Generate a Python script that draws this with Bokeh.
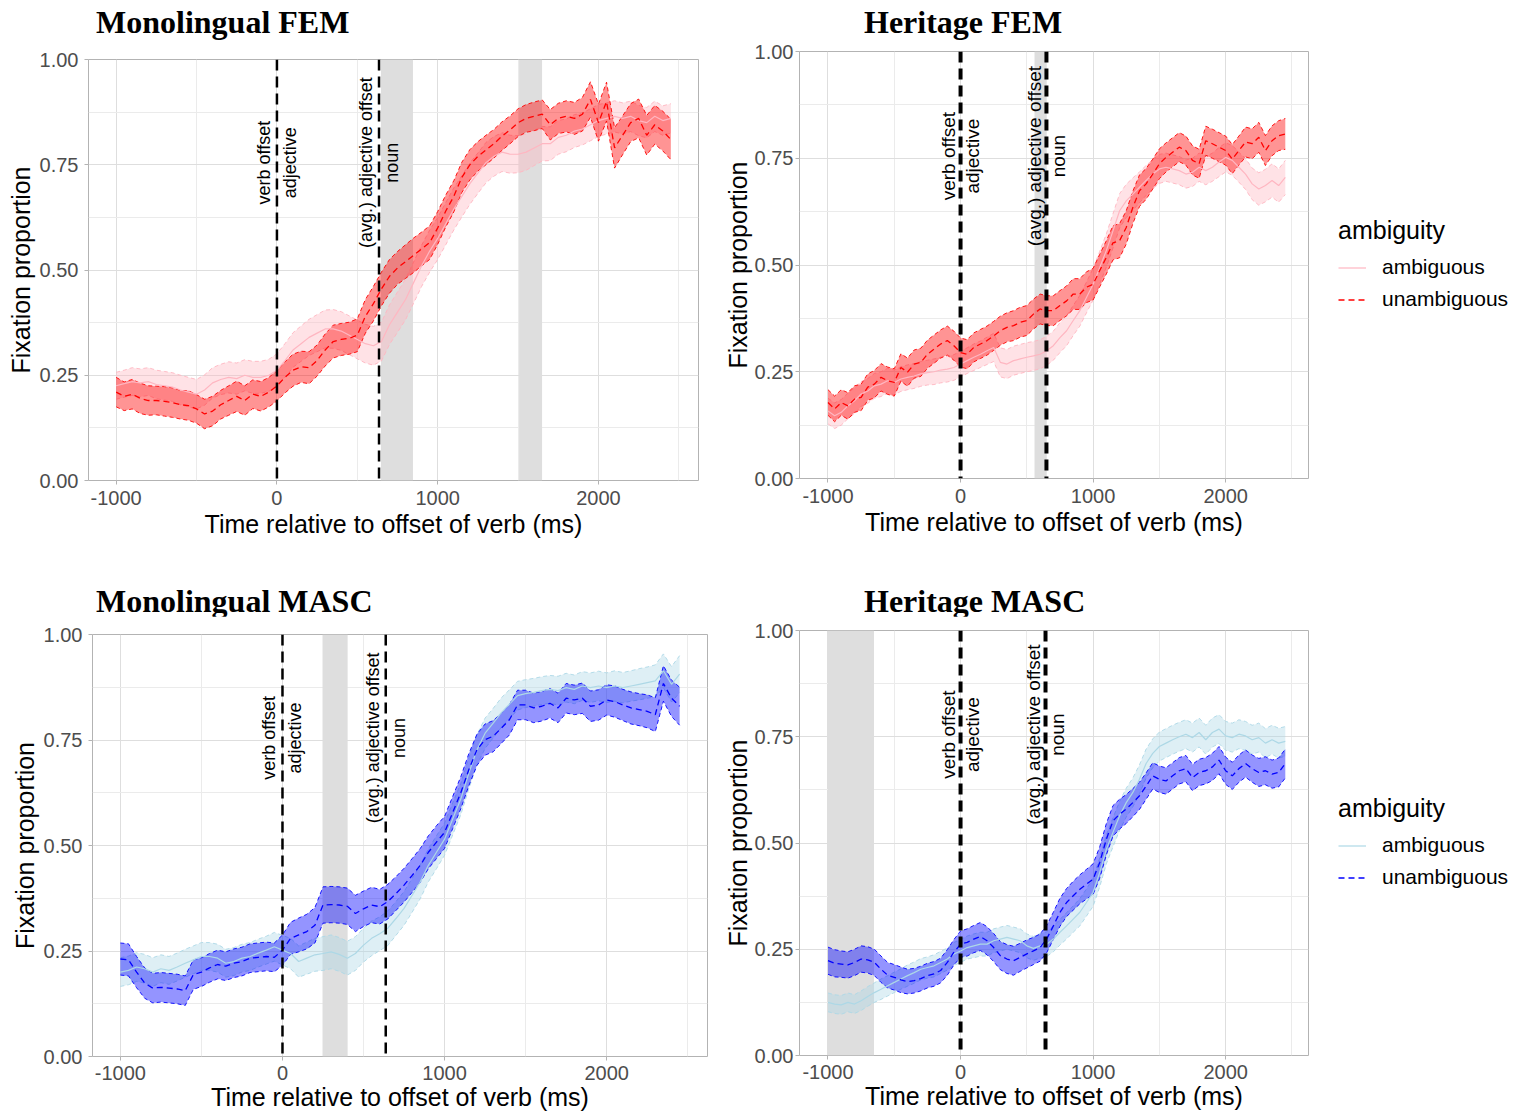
import math
from bokeh.plotting import figure
from bokeh.layouts import column, row
from bokeh.models import (ColumnDataSource, FixedTicker, Span, BoxAnnotation, Label,
                          Legend, LegendItem, Range1d, NumeralTickFormatter, Div)
from bokeh.embed import file_html
from bokeh.resources import INLINE

# ---------------- data ----------------
time_ms = list(range(-1000, 2500, 50))

panel_titles = ["Monolingual FEM", "Heritage FEM", "Monolingual MASC", "Heritage MASC"]
series_names = ["ambiguous", "unambiguous"]
legend_title = "ambiguity"
x_label = "Time relative to offset of verb (ms)"
y_label = "Fixation proportion"
x_ticks = [-1000, 0, 1000, 2000]
x_tick_labels = ["-1000", "0", "1000", "2000"]
x_minor = [-1500, -500, 500, 1500, 2500]
y_ticks = [0.0, 0.25, 0.5, 0.75, 1.0]
y_tick_labels = ["0.00", "0.25", "0.50", "0.75", "1.00"]
y_minor = [0.125, 0.375, 0.625, 0.875]
event_labels_left = ["verb offset", "(avg.) adjective offset"]
event_labels_right = ["adjective", "noun"]

# vertical event lines (ms) and grey windows (ms) per panel
events_mono_fem = [0, 635]
events_her_fem = [0, 648]
events_mono_masc = [0, 637]
events_her_masc = [0, 641]
windows_mono_fem = [(647, 846), (1506, 1649)]
windows_her_fem = [(558, 650)]
windows_mono_masc = [(247, 402)]
windows_her_masc = [(-1000, -653)]

# Monolingual FEM
mono_fem_amb = [0.225, 0.23, 0.235, 0.232, 0.235, 0.228, 0.225, 0.222, 0.215, 0.21,
                0.205, 0.215, 0.232, 0.24, 0.245, 0.242, 0.25, 0.245, 0.245, 0.25,
                0.262, 0.285, 0.31, 0.325, 0.34, 0.35, 0.36, 0.36, 0.355, 0.345,
                0.335, 0.325, 0.32, 0.33, 0.37, 0.4, 0.43, 0.47, 0.51, 0.545,
                0.575, 0.61, 0.645, 0.675, 0.705, 0.73, 0.755, 0.77, 0.78, 0.775,
                0.775, 0.78, 0.79, 0.8, 0.8, 0.815, 0.82, 0.83, 0.835, 0.845,
                0.855, 0.86, 0.865, 0.86, 0.865, 0.855, 0.85, 0.865, 0.855, 0.86]
mono_fem_amb_ci = [0.032, 0.032, 0.033, 0.033, 0.033, 0.034, 0.034, 0.034, 0.035, 0.035,
                   0.035, 0.036, 0.036, 0.036, 0.037, 0.037, 0.037, 0.038, 0.038, 0.038,
                   0.039, 0.04, 0.041, 0.042, 0.043, 0.044, 0.045, 0.046, 0.046, 0.046,
                   0.046, 0.046, 0.046, 0.046, 0.047, 0.048, 0.048, 0.049, 0.049, 0.05,
                   0.05, 0.05, 0.05, 0.049, 0.049, 0.048, 0.048, 0.047, 0.046, 0.045,
                   0.044, 0.043, 0.042, 0.041, 0.04, 0.04, 0.039, 0.039, 0.038, 0.038,
                   0.038, 0.037, 0.037, 0.037, 0.036, 0.036, 0.036, 0.036, 0.035, 0.035]
mono_fem_unamb = [0.21, 0.20, 0.205, 0.195, 0.19, 0.19, 0.188, 0.185, 0.18, 0.178,
                  0.17, 0.158, 0.165, 0.18, 0.19, 0.2, 0.19, 0.205, 0.2, 0.21,
                  0.225, 0.245, 0.262, 0.27, 0.268, 0.285, 0.31, 0.33, 0.335, 0.338,
                  0.345, 0.39, 0.42, 0.455, 0.485, 0.505, 0.52, 0.535, 0.55, 0.565,
                  0.6, 0.64, 0.675, 0.72, 0.75, 0.77, 0.785, 0.8, 0.818, 0.833,
                  0.85, 0.86, 0.865, 0.87, 0.845, 0.86, 0.865, 0.86, 0.87, 0.905,
                  0.85, 0.9, 0.79, 0.82, 0.85, 0.86, 0.82, 0.845, 0.83, 0.81]
mono_fem_unamb_ci = [0.035, 0.034, 0.035, 0.036, 0.035, 0.034, 0.035, 0.035, 0.034, 0.035,
                     0.034, 0.035, 0.035, 0.034, 0.035, 0.036, 0.035, 0.034, 0.035, 0.035,
                     0.036, 0.037, 0.038, 0.037, 0.038, 0.037, 0.038, 0.039, 0.038, 0.038,
                     0.039, 0.04, 0.041, 0.04, 0.04, 0.039, 0.04, 0.041, 0.04, 0.04,
                     0.039, 0.038, 0.037, 0.036, 0.036, 0.035, 0.035, 0.034, 0.034, 0.033,
                     0.033, 0.033, 0.034, 0.034, 0.036, 0.036, 0.037, 0.038, 0.04, 0.042,
                     0.044, 0.046, 0.048, 0.046, 0.045, 0.046, 0.047, 0.046, 0.047, 0.048]

# Heritage FEM
her_fem_amb = [0.158, 0.147, 0.155, 0.17, 0.182, 0.198, 0.205, 0.217, 0.221, 0.229,
               0.225, 0.233, 0.237, 0.24, 0.245, 0.248, 0.25, 0.254, 0.256, 0.26,
               0.268, 0.276, 0.284, 0.291, 0.299, 0.307, 0.272, 0.268, 0.276, 0.28,
               0.284, 0.287, 0.291, 0.299, 0.311, 0.33, 0.346, 0.37, 0.393, 0.424,
               0.455, 0.494, 0.534, 0.58, 0.627, 0.65, 0.666, 0.682, 0.698, 0.713,
               0.725, 0.729, 0.725, 0.721, 0.713, 0.717, 0.729, 0.721, 0.729, 0.741,
               0.752, 0.745, 0.729, 0.713, 0.69, 0.678, 0.686, 0.698, 0.686, 0.705]
her_fem_amb_ci = [0.03, 0.03, 0.03, 0.03, 0.03, 0.029, 0.029, 0.029, 0.029, 0.029,
                  0.029, 0.029, 0.029, 0.029, 0.029, 0.029, 0.03, 0.03, 0.03, 0.03,
                  0.03, 0.03, 0.031, 0.031, 0.032, 0.033, 0.034, 0.034, 0.034, 0.034,
                  0.034, 0.034, 0.034, 0.034, 0.034, 0.035, 0.035, 0.035, 0.036, 0.036,
                  0.037, 0.038, 0.039, 0.04, 0.04, 0.039, 0.038, 0.036, 0.035, 0.034,
                  0.034, 0.033, 0.033, 0.033, 0.033, 0.033, 0.033, 0.033, 0.033, 0.034,
                  0.034, 0.035, 0.035, 0.036, 0.037, 0.038, 0.038, 0.039, 0.039, 0.04]
her_fem_unamb = [0.178, 0.163, 0.178, 0.17, 0.186, 0.19, 0.214, 0.221, 0.237, 0.229,
                 0.225, 0.26, 0.249, 0.268, 0.272, 0.291, 0.303, 0.315, 0.323, 0.311,
                 0.295, 0.291, 0.307, 0.315, 0.323, 0.334, 0.346, 0.354, 0.358, 0.366,
                 0.37, 0.385, 0.397, 0.393, 0.393, 0.405, 0.416, 0.432, 0.432, 0.448,
                 0.455, 0.487, 0.518, 0.552, 0.557, 0.588, 0.635, 0.674, 0.69, 0.713,
                 0.737, 0.752, 0.764, 0.776, 0.768, 0.745, 0.737, 0.791, 0.784, 0.776,
                 0.768, 0.748, 0.768, 0.788, 0.784, 0.799, 0.768, 0.791, 0.803, 0.807]
her_fem_unamb_ci = [0.03, 0.03, 0.03, 0.031, 0.031, 0.031, 0.031, 0.032, 0.032, 0.032,
                    0.032, 0.032, 0.033, 0.033, 0.033, 0.033, 0.033, 0.033, 0.034, 0.034,
                    0.034, 0.034, 0.034, 0.034, 0.034, 0.034, 0.034, 0.034, 0.035, 0.035,
                    0.035, 0.035, 0.035, 0.035, 0.035, 0.035, 0.035, 0.036, 0.036, 0.036,
                    0.037, 0.038, 0.039, 0.04, 0.04, 0.039, 0.038, 0.037, 0.036, 0.035,
                    0.035, 0.034, 0.034, 0.034, 0.034, 0.034, 0.034, 0.034, 0.034, 0.034,
                    0.034, 0.034, 0.034, 0.035, 0.035, 0.035, 0.035, 0.035, 0.035, 0.036]

# Monolingual MASC
mono_masc_amb = [0.2, 0.204, 0.212, 0.208, 0.2, 0.208, 0.204, 0.212, 0.221, 0.229,
                 0.237, 0.237, 0.233, 0.221, 0.225, 0.233, 0.237, 0.245, 0.252, 0.26,
                 0.252, 0.244, 0.225, 0.233, 0.241, 0.244, 0.248, 0.242, 0.233, 0.244,
                 0.264, 0.28, 0.291, 0.304, 0.327, 0.351, 0.382, 0.414, 0.453, 0.484,
                 0.515, 0.563, 0.61, 0.672, 0.727, 0.766, 0.79, 0.815, 0.835, 0.855,
                 0.86, 0.863, 0.867, 0.87, 0.867, 0.874, 0.87, 0.878, 0.874, 0.878,
                 0.874, 0.878, 0.874, 0.878, 0.882, 0.886, 0.89, 0.914, 0.882, 0.906]
mono_masc_amb_ci = [0.034, 0.034, 0.034, 0.034, 0.034, 0.033, 0.033, 0.033, 0.033, 0.033,
                    0.033, 0.033, 0.033, 0.033, 0.033, 0.033, 0.033, 0.033, 0.033, 0.034,
                    0.035, 0.036, 0.037, 0.038, 0.039, 0.04, 0.04, 0.04, 0.04, 0.04,
                    0.04, 0.041, 0.04, 0.041, 0.04, 0.04, 0.04, 0.04, 0.039, 0.039,
                    0.038, 0.038, 0.037, 0.037, 0.036, 0.036, 0.035, 0.035, 0.034, 0.034,
                    0.033, 0.033, 0.033, 0.033, 0.034, 0.034, 0.034, 0.034, 0.035, 0.035,
                    0.035, 0.036, 0.036, 0.036, 0.037, 0.037, 0.038, 0.04, 0.042, 0.044]
mono_masc_unamb = [0.231, 0.229, 0.2, 0.174, 0.162, 0.164, 0.162, 0.16, 0.156, 0.194,
                   0.2, 0.21, 0.218, 0.214, 0.221, 0.225, 0.233, 0.235, 0.237, 0.235,
                   0.252, 0.28, 0.288, 0.296, 0.311, 0.359, 0.36, 0.359, 0.356, 0.339,
                   0.35, 0.359, 0.355, 0.367, 0.386, 0.406, 0.429, 0.453, 0.484, 0.508,
                   0.531, 0.578, 0.625, 0.68, 0.727, 0.751, 0.759, 0.778, 0.798, 0.833,
                   0.833, 0.826, 0.83, 0.837, 0.826, 0.849, 0.845, 0.849, 0.83, 0.833,
                   0.845, 0.841, 0.833, 0.826, 0.822, 0.818, 0.81, 0.884, 0.849, 0.83]
mono_masc_unamb_ci = [0.038, 0.038, 0.037, 0.036, 0.035, 0.035, 0.035, 0.035, 0.035, 0.035,
                      0.034, 0.034, 0.034, 0.034, 0.034, 0.034, 0.034, 0.034, 0.034, 0.034,
                      0.036, 0.038, 0.04, 0.041, 0.042, 0.043, 0.043, 0.043, 0.043, 0.043,
                      0.042, 0.042, 0.041, 0.041, 0.04, 0.04, 0.04, 0.04, 0.039, 0.039,
                      0.038, 0.038, 0.038, 0.038, 0.037, 0.037, 0.037, 0.036, 0.036, 0.035,
                      0.035, 0.035, 0.035, 0.035, 0.035, 0.035, 0.035, 0.036, 0.036, 0.036,
                      0.036, 0.037, 0.037, 0.038, 0.038, 0.039, 0.04, 0.042, 0.043, 0.045]

# Heritage MASC
her_masc_amb = [0.125, 0.121, 0.119, 0.125, 0.121, 0.129, 0.139, 0.148, 0.156, 0.164,
                0.172, 0.18, 0.188, 0.195, 0.203, 0.207, 0.211, 0.219, 0.227, 0.239,
                0.246, 0.254, 0.258, 0.262, 0.262, 0.27, 0.274, 0.278, 0.274, 0.27,
                0.258, 0.252, 0.258, 0.262, 0.274, 0.29, 0.305, 0.321, 0.337, 0.36,
                0.384, 0.431, 0.485, 0.525, 0.564, 0.595, 0.619, 0.65, 0.687, 0.711,
                0.727, 0.735, 0.743, 0.75, 0.756, 0.748, 0.76, 0.743, 0.76, 0.768,
                0.752, 0.748, 0.756, 0.752, 0.743, 0.748, 0.735, 0.743, 0.735, 0.739]
her_masc_amb_ci = [0.022, 0.022, 0.022, 0.022, 0.022, 0.023, 0.023, 0.023, 0.024, 0.024,
                   0.024, 0.024, 0.025, 0.025, 0.025, 0.025, 0.026, 0.026, 0.026, 0.027,
                   0.027, 0.027, 0.028, 0.028, 0.028, 0.028, 0.028, 0.028, 0.028, 0.028,
                   0.028, 0.028, 0.029, 0.029, 0.03, 0.03, 0.031, 0.031, 0.032, 0.032,
                   0.033, 0.034, 0.034, 0.034, 0.034, 0.034, 0.034, 0.034, 0.034, 0.034,
                   0.034, 0.034, 0.034, 0.034, 0.034, 0.034, 0.034, 0.034, 0.034, 0.034,
                   0.034, 0.034, 0.034, 0.034, 0.034, 0.034, 0.034, 0.034, 0.035, 0.035]
her_masc_unamb = [0.223, 0.217, 0.215, 0.213, 0.219, 0.227, 0.225, 0.219, 0.203, 0.189,
                  0.184, 0.178, 0.174, 0.176, 0.181, 0.188, 0.192, 0.2, 0.219, 0.243,
                  0.262, 0.266, 0.274, 0.28, 0.27, 0.254, 0.235, 0.227, 0.223, 0.231,
                  0.239, 0.246, 0.254, 0.274, 0.305, 0.337, 0.36, 0.376, 0.391, 0.403,
                  0.415, 0.454, 0.509, 0.552, 0.568, 0.58, 0.595, 0.611, 0.634, 0.658,
                  0.65, 0.646, 0.658, 0.67, 0.675, 0.654, 0.666, 0.67, 0.679, 0.695,
                  0.67, 0.658, 0.675, 0.687, 0.675, 0.666, 0.67, 0.662, 0.666, 0.687]
her_masc_unamb_ci = [0.032, 0.032, 0.031, 0.031, 0.031, 0.031, 0.031, 0.031, 0.031, 0.03,
                     0.03, 0.03, 0.029, 0.029, 0.029, 0.029, 0.029, 0.029, 0.03, 0.03,
                     0.031, 0.032, 0.032, 0.033, 0.033, 0.033, 0.033, 0.034, 0.034, 0.033,
                     0.033, 0.032, 0.032, 0.032, 0.032, 0.033, 0.033, 0.034, 0.034, 0.035,
                     0.036, 0.037, 0.037, 0.036, 0.035, 0.034, 0.033, 0.032, 0.031, 0.031,
                     0.031, 0.031, 0.031, 0.031, 0.031, 0.031, 0.031, 0.031, 0.032, 0.032,
                     0.032, 0.032, 0.032, 0.032, 0.032, 0.033, 0.033, 0.033, 0.034, 0.034]

FEM_COLORS = ("#FFB6C1", "#FF0000")
MASC_COLORS = ("#ADD8E6", "#0000FF")

FONT = "Liberation Sans"


def make_title(text, width, height, pad_left, pad_top):
    html = ('<div style="padding:%dpx 0 0 %dpx; font-family:\'Liberation Serif\'; '
            'font-weight:bold; font-size:32px; line-height:32px; color:black; '
            'white-space:nowrap;">%s</div>' % (pad_top, pad_left, text))
    return Div(text=html, width=width, height=height, margin=(0, 0, 0, 0))


def make_panel(amb, amb_ci, unamb, unamb_ci, colors, events, windows,
               x_start, x_end, frame, borders, event_width,
               label_off, label_size, show_legend, standoffs):
    left, right, top, bottom = borders
    fw, fh = frame
    xs_tick, xs_lab, ys_tick, ys_lab = standoffs
    p = figure(frame_width=fw, frame_height=fh, output_backend="svg", toolbar_location=None,
               x_range=Range1d(x_start, x_end), y_range=Range1d(0, 1),
               min_border_left=left, min_border_right=right,
               min_border_top=top, min_border_bottom=bottom,
               background_fill_color="white", border_fill_color="white",
               margin=(0, 0, 0, 0))

    p.outline_line_color = "#B3B3B3"
    p.outline_line_width = 1

    p.xaxis.ticker = FixedTicker(ticks=x_ticks, minor_ticks=x_minor)
    p.yaxis.ticker = FixedTicker(ticks=y_ticks, minor_ticks=y_minor)
    p.xgrid.ticker = FixedTicker(ticks=x_ticks, minor_ticks=x_minor)
    p.ygrid.ticker = FixedTicker(ticks=y_ticks, minor_ticks=y_minor)
    p.yaxis.formatter = NumeralTickFormatter(format="0.00")
    p.xaxis.major_label_overrides = dict(zip(x_ticks, x_tick_labels))
    p.yaxis.major_label_overrides = dict(zip(y_ticks, y_tick_labels))
    for g in (p.xgrid[0], p.ygrid[0]):
        g.grid_line_color = "#DEDEDE"
        g.grid_line_width = 1
        g.minor_grid_line_color = "#EBEBEB"
        g.minor_grid_line_width = 1
    for ax in (p.xaxis[0], p.yaxis[0]):
        ax.axis_line_color = None
        ax.major_tick_line_color = "#B3B3B3"
        ax.major_tick_out = 4
        ax.major_tick_in = 0
        ax.minor_tick_line_color = None
        ax.major_label_text_font = FONT
        ax.major_label_text_font_size = "20px"
        ax.major_label_text_color = "#4D4D4D"
        ax.axis_label_text_font = FONT
        ax.axis_label_text_font_size = "25px"
        ax.axis_label_text_font_style = "normal"
        ax.axis_label_text_color = "black"
    p.xaxis.major_label_standoff = xs_tick
    p.xaxis.axis_label_standoff = xs_lab
    p.yaxis.major_label_standoff = ys_tick
    p.yaxis.axis_label_standoff = ys_lab
    p.xaxis.axis_label = x_label
    p.yaxis.axis_label = y_label

    # grey windows
    for (a, b) in windows:
        p.add_layout(BoxAnnotation(left=a, right=b, fill_color="#DEDEDE", fill_alpha=1.0,
                                   line_color=None, level="underlay"))

    mean_lines = []
    for vals, ci, col, dash, lw, alpha in ((amb, amb_ci, colors[0], "solid", 1.2, 0.4),
                                          (unamb, unamb_ci, colors[1], "6 4", 1.3, 0.42)):
        lo = [v - c for v, c in zip(vals, ci)]
        hi = [v + c for v, c in zip(vals, ci)]
        src = ColumnDataSource(dict(t=time_ms, m=vals, lo=lo, hi=hi))
        p.varea(x="t", y1="lo", y2="hi", source=src, fill_color=col, fill_alpha=alpha)
        p.line(x="t", y="lo", source=src, line_color=col, line_width=0.9, line_dash="4 3")
        p.line(x="t", y="hi", source=src, line_color=col, line_width=0.9, line_dash="4 3")
        mean_lines.append((src, col, dash, lw))
    renderers = []
    for src, col, dash, lw in mean_lines:
        renderers.append(p.line(x="t", y="m", source=src, line_color=col, line_width=lw,
                                line_dash=dash))

    for i, e in enumerate(events):
        p.add_layout(Span(location=e, dimension="height", line_color="black",
                          line_dash="11 6", line_width=event_width))
        p.add_layout(Label(x=e, y=0.755, text=event_labels_left[i], angle=math.pi / 2,
                           x_offset=-label_off, text_align="center", text_baseline="middle",
                           text_font=FONT, text_font_size=label_size, text_color="black"))
        p.add_layout(Label(x=e, y=0.755, text=event_labels_right[i], angle=math.pi / 2,
                           x_offset=label_off, text_align="center", text_baseline="middle",
                           text_font=FONT, text_font_size=label_size, text_color="black"))

    if show_legend:
        legend = Legend(items=[LegendItem(label=series_names[0], renderers=[renderers[0]]),
                               LegendItem(label=series_names[1], renderers=[renderers[1]])],
                        title=legend_title, location="center_left")
        legend.title_text_font = FONT
        legend.title_text_font_size = "25px"
        legend.title_text_font_style = "normal"
        legend.title_text_color = "black"
        legend.title_standoff = 8
        legend.label_text_font = FONT
        legend.label_text_font_size = "21px"
        legend.label_text_color = "black"
        legend.glyph_width = 28
        legend.glyph_height = 29
        legend.label_height = 29
        legend.label_standoff = 16
        legend.spacing = 3
        legend.padding = 0
        legend.margin = 30
        legend.border_line_color = None
        legend.background_fill_alpha = 0
        p.add_layout(legend, "right")
    return p


p1 = make_panel(mono_fem_amb, mono_fem_amb_ci, mono_fem_unamb, mono_fem_unamb_ci,
                FEM_COLORS, events_mono_fem, windows_mono_fem, -1172, 2622,
                (610, 421), (88, 22, 19, 88), 2.5, 13, "18px", False, (6, 2, 6, 2))
p2 = make_panel(her_fem_amb, her_fem_amb_ci, her_fem_unamb, her_fem_unamb_ci,
                FEM_COLORS, events_her_fem, windows_her_fem, -1215, 2625,
                (509, 427), (78, 213, 11, 90), 4, 12, "19px", True, (6, 2, 2, 0))
p3 = make_panel(mono_masc_amb, mono_masc_amb_ci, mono_masc_unamb, mono_masc_unamb_ci,
                MASC_COLORS, events_mono_masc, windows_mono_masc, -1172, 2622,
                (615, 422), (92, 13, 18, 60), 2.5, 13, "18px", False, (5, 0, 6, 2))
p4 = make_panel(her_masc_amb, her_masc_amb_ci, her_masc_unamb, her_masc_unamb_ci,
                MASC_COLORS, events_her_masc, windows_her_masc, -1215, 2625,
                (509, 425), (78, 213, 14, 59), 4, 12, "19px", True, (5, 0, 2, 0))

t1 = make_title(panel_titles[0], 720, 40, 96, 6)
t2 = make_title(panel_titles[1], 800, 40, 144, 6)
t3 = make_title(panel_titles[2], 720, 48, 96, 17)
t4 = make_title(panel_titles[3], 800, 48, 144, 17)

layout = column(row(column(t1, p1, spacing=0), column(t2, p2, spacing=0), spacing=0),
                row(column(t3, p3, spacing=0), column(t4, p4, spacing=0), spacing=0),
                spacing=0)

open("out.html", "w").write(file_html(layout, INLINE))
